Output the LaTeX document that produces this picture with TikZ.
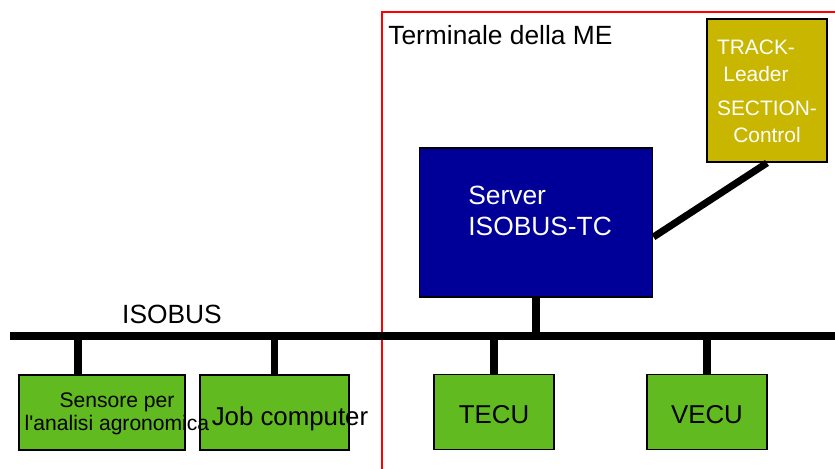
\documentclass[tikz,border=0pt]{standalone}
\usepackage{fontspec}
\setmainfont{Liberation Sans}
\definecolor{ecugreen}{RGB}{96,186,32}
\definecolor{tcblue}{RGB}{0,0,153}
\definecolor{trackolive}{RGB}{200,182,0}
\begin{document}
\begin{tikzpicture}[x=0.02cm, y=-0.02cm,
  ecu/.style={draw=black, line width=1.1pt, fill=ecugreen,
              minimum height=1.5cm, minimum width=#1, inner sep=0pt},
  bus/.style={line width=4pt},
  txt/.style={inner sep=0pt, font=\fontsize{#1}{#1}\selectfont}
]
  \clip (0,0) rectangle (835,468);
  % Terminale
  \draw[red, line width=1pt] (382,12) rectangle (860,490);
  \node[txt=15, anchor=base west] (term) at (388,44) {Terminale della ME};
  % Bus
  \coordinate (busL) at (10,336);
  \coordinate (busR) at (840,336);
  \draw[bus] (busL) -- (busR);
  \node[txt=15, anchor=base] (isobus) at (172,323) {ISOBUS};
  % Server e TRACK
  \node[draw=black, line width=1.1pt, fill=tcblue, minimum width=4.66cm,
        minimum height=2.98cm] (server) at (536,222.5) {};
  \node[txt=15, text=white, align=left, anchor=west,
        font=\fontsize{15}{18}\selectfont] (servertxt) at (468,211)
        {Server\\ISOBUS-TC};
  \node[draw=black, line width=1.1pt, fill=trackolive, minimum width=2.4cm,
        minimum height=2.86cm] (track) at (767,90.5) {};
  \node[txt=12, text=white, align=center,
        font=\fontsize{11.9}{15.3}\selectfont] (tracktxt) at (756,61)
        {TRACK-\\Leader};
  \node[txt=12, text=white, align=center,
        font=\fontsize{11.9}{15.3}\selectfont] (sectiontxt) at (767,122)
        {SECTION-\\Control};
  \draw[bus] (track.south) -- ([yshift=-0.29cm]server.east);
  % ECU
  \node[ecu=3.32cm] (sens) at (102,412.5) {};
  \node[ecu=2.98cm] (job)  at (274.5,412.5) {};
  \node[ecu=2.4cm]  (tecu) at (494,412) {};
  \node[ecu=2.4cm]  (vecu) at (707,412) {};
  \node[txt=12, align=center, font=\fontsize{12}{13}\selectfont]
        (senstxt) at (117,414) {Sensore per\\l\textquotesingle analisi agronomica};
  \node[txt=14.7, anchor=base] (jobtxt) at (290,425) {Job computer};
  \node[txt=14.7, anchor=base] (tecutxt) at (494,423) {TECU};
  \node[txt=14.7, anchor=base] (vecutxt) at (707,423) {VECU};
  % Collegamenti
  \coordinate (sensdrop) at ([xshift=-0.48cm]sens.north);
  \draw[bus] (sensdrop) -- (sensdrop |- busL);
  \draw[bus] (job.north) -- (job.north |- busL);
  \draw[bus] (tecu.north) -- (tecu.north |- busL);
  \draw[bus] (vecu.north) -- (vecu.north |- busL);
  \draw[bus] (server.south) -- (server.south |- busL);
\end{tikzpicture}
\end{document}
